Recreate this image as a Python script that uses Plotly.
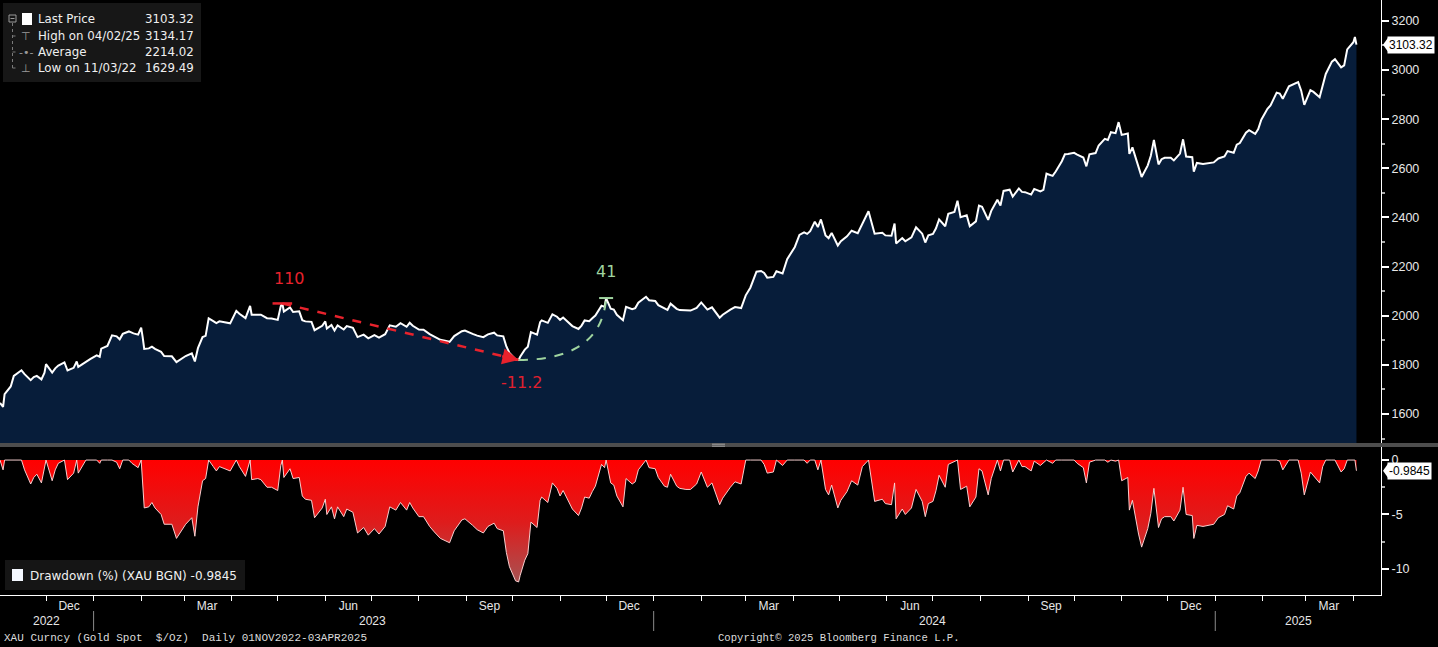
import pandas as pd
import plotly.graph_objects as go

# ---------------- data ----------------
dates = [
    "2022-11-01", "2022-11-02", "2022-11-03", "2022-11-04", "2022-11-08", "2022-11-10", "2022-11-14", "2022-11-15", "2022-11-17", "2022-11-21", "2022-11-23", "2022-11-25", "2022-11-28", "2022-11-30",
    "2022-12-01", "2022-12-05", "2022-12-07", "2022-12-09", "2022-12-13", "2022-12-15", "2022-12-19", "2022-12-21", "2022-12-22", "2022-12-27", "2022-12-30",
    "2023-01-03", "2023-01-05", "2023-01-06", "2023-01-10", "2023-01-13", "2023-01-16", "2023-01-18", "2023-01-20", "2023-01-24", "2023-01-26", "2023-01-27", "2023-01-30",
    "2023-02-01", "2023-02-02", "2023-02-03", "2023-02-06", "2023-02-08", "2023-02-10", "2023-02-14", "2023-02-16", "2023-02-21", "2023-02-24", "2023-02-28",
    "2023-03-02", "2023-03-06", "2023-03-08", "2023-03-10", "2023-03-13", "2023-03-15", "2023-03-17", "2023-03-20", "2023-03-22", "2023-03-24", "2023-03-28", "2023-03-31",
    "2023-04-04", "2023-04-06", "2023-04-10", "2023-04-13", "2023-04-14", "2023-04-18", "2023-04-20", "2023-04-24", "2023-04-27",
    "2023-05-01", "2023-05-03", "2023-05-04", "2023-05-05", "2023-05-09", "2023-05-11", "2023-05-15", "2023-05-17", "2023-05-19", "2023-05-23", "2023-05-25", "2023-05-30",
    "2023-06-01", "2023-06-02", "2023-06-05", "2023-06-07", "2023-06-09", "2023-06-13", "2023-06-15", "2023-06-19", "2023-06-22", "2023-06-26", "2023-06-29",
    "2023-07-03", "2023-07-06", "2023-07-10", "2023-07-13", "2023-07-17", "2023-07-20", "2023-07-24", "2023-07-26", "2023-07-28",
    "2023-08-01", "2023-08-04", "2023-08-08", "2023-08-11", "2023-08-15", "2023-08-21", "2023-08-24", "2023-08-29", "2023-08-31",
    "2023-09-05", "2023-09-08", "2023-09-12", "2023-09-15", "2023-09-19", "2023-09-21", "2023-09-25", "2023-09-27", "2023-09-29",
    "2023-10-03", "2023-10-05", "2023-10-06", "2023-10-09", "2023-10-11", "2023-10-13", "2023-10-17", "2023-10-19", "2023-10-20", "2023-10-24", "2023-10-27", "2023-10-30",
    "2023-11-01", "2023-11-03", "2023-11-07", "2023-11-09", "2023-11-13", "2023-11-15", "2023-11-17", "2023-11-20", "2023-11-22", "2023-11-24", "2023-11-28", "2023-11-30",
    "2023-12-01", "2023-12-04", "2023-12-06", "2023-12-08", "2023-12-12", "2023-12-14", "2023-12-18", "2023-12-20", "2023-12-22", "2023-12-27", "2023-12-29",
    "2024-01-02", "2024-01-04", "2024-01-08", "2024-01-10", "2024-01-12", "2024-01-16", "2024-01-18", "2024-01-22", "2024-01-25", "2024-01-29",
    "2024-02-01", "2024-02-05", "2024-02-08", "2024-02-13", "2024-02-15", "2024-02-20", "2024-02-23", "2024-02-27",
    "2024-03-01", "2024-03-04", "2024-03-06", "2024-03-08", "2024-03-11", "2024-03-13", "2024-03-15", "2024-03-19", "2024-03-21", "2024-03-25", "2024-03-28",
    "2024-04-02", "2024-04-05", "2024-04-08", "2024-04-10", "2024-04-12", "2024-04-15", "2024-04-17", "2024-04-19", "2024-04-22", "2024-04-24", "2024-04-26", "2024-04-30",
    "2024-05-02", "2024-05-06", "2024-05-09", "2024-05-13", "2024-05-16", "2024-05-20", "2024-05-22", "2024-05-24", "2024-05-29", "2024-05-31",
    "2024-06-04", "2024-06-06", "2024-06-07", "2024-06-11", "2024-06-13", "2024-06-17", "2024-06-20", "2024-06-24", "2024-06-26", "2024-06-28",
    "2024-07-01", "2024-07-03", "2024-07-05", "2024-07-09", "2024-07-11", "2024-07-15", "2024-07-17", "2024-07-19", "2024-07-23", "2024-07-25", "2024-07-29", "2024-07-31",
    "2024-08-02", "2024-08-06", "2024-08-08", "2024-08-12", "2024-08-14", "2024-08-16", "2024-08-20", "2024-08-22", "2024-08-26", "2024-08-28", "2024-08-30",
    "2024-09-03", "2024-09-05", "2024-09-09", "2024-09-11", "2024-09-13", "2024-09-17", "2024-09-19", "2024-09-23", "2024-09-25", "2024-09-27",
    "2024-10-01", "2024-10-03", "2024-10-07", "2024-10-09", "2024-10-11", "2024-10-15", "2024-10-17", "2024-10-21", "2024-10-23", "2024-10-25", "2024-10-28", "2024-10-30",
    "2024-11-01", "2024-11-05", "2024-11-06", "2024-11-08", "2024-11-12", "2024-11-14", "2024-11-18", "2024-11-20", "2024-11-22", "2024-11-25", "2024-11-27", "2024-11-29",
    "2024-12-03", "2024-12-05", "2024-12-09", "2024-12-11", "2024-12-13", "2024-12-17", "2024-12-18", "2024-12-20", "2024-12-24", "2024-12-27", "2024-12-31",
    "2025-01-03", "2025-01-07", "2025-01-09", "2025-01-13", "2025-01-15", "2025-01-17", "2025-01-21", "2025-01-23", "2025-01-27", "2025-01-29", "2025-01-31",
    "2025-02-04", "2025-02-06", "2025-02-10", "2025-02-12", "2025-02-14", "2025-02-18", "2025-02-20", "2025-02-24", "2025-02-26", "2025-02-28",
    "2025-03-04", "2025-03-06", "2025-03-10", "2025-03-12", "2025-03-14", "2025-03-18", "2025-03-20", "2025-03-24", "2025-03-26", "2025-03-28",
    "2025-04-01", "2025-04-02", "2025-04-03",
]

price = [
    1645, 1636, 1629.49, 1681, 1712, 1755, 1771, 1778, 1762, 1738, 1750, 1755, 1741, 1768,
    1803, 1769, 1786, 1797, 1810, 1777, 1788, 1814, 1792, 1814, 1824,
    1839, 1833, 1866, 1877, 1920, 1916, 1904, 1926, 1936, 1930, 1928, 1923,
    1951, 1912, 1865, 1867, 1874, 1865, 1853, 1836, 1835, 1811, 1827,
    1836, 1847, 1814, 1868, 1913, 1918, 1989, 1978, 1970, 1977, 1973, 1969,
    2020, 2008, 1990, 2040, 2004, 2005, 2004, 1990, 1989,
    1983, 2039, 2050, 2017, 2034, 2015, 2018, 1982, 1977, 1975, 1941, 1959,
    1977, 1948, 1962, 1940, 1961, 1944, 1958, 1951, 1913, 1923, 1908,
    1921, 1911, 1925, 1961, 1955, 1970, 1955, 1971, 1959,
    1944, 1943, 1925, 1914, 1902, 1894, 1917, 1937, 1940,
    1926, 1919, 1913, 1924, 1931, 1920, 1916, 1875, 1849,
    1822, 1820, 1833, 1862, 1874, 1933, 1923, 1974, 1981, 1971, 2006, 1996,
    1983, 1993, 1969, 1958, 1946, 1960, 1981, 1978, 1990, 2001, 2041, 2036,
    2072, 2029, 2025, 2004, 1982, 2036, 2027, 2031, 2053, 2077, 2063,
    2060, 2043, 2028, 2024, 2049, 2028, 2023, 2021, 2021, 2032,
    2054, 2025, 2034, 1992, 2004, 2025, 2035, 2031,
    2083, 2114, 2148, 2179, 2182, 2174, 2155, 2158, 2181, 2172, 2230,
    2280, 2329, 2339, 2333, 2344, 2383, 2361, 2392, 2327, 2316, 2337, 2286,
    2303, 2323, 2346, 2336, 2377, 2425, 2379, 2334, 2338, 2327,
    2326, 2375, 2294, 2316, 2303, 2319, 2360, 2334, 2298, 2327,
    2333, 2356, 2392, 2364, 2415, 2422, 2468, 2401, 2409, 2364, 2384, 2448,
    2443, 2390, 2427, 2472, 2448, 2508, 2513, 2485, 2518, 2504, 2503,
    2493, 2516, 2506, 2512, 2578, 2569, 2587, 2629, 2657, 2658,
    2663, 2656, 2644, 2608, 2657, 2662, 2693, 2720, 2715, 2747, 2743, 2788,
    2736, 2742, 2659, 2685, 2598, 2565, 2612, 2651, 2715, 2616, 2637, 2643,
    2643, 2632, 2660, 2718, 2648, 2645, 2586, 2622, 2618, 2621, 2624,
    2640, 2648, 2670, 2663, 2696, 2703, 2745, 2755, 2740, 2760, 2798,
    2842, 2856, 2908, 2904, 2883, 2934, 2939, 2951, 2916, 2858,
    2918, 2911, 2889, 2934, 2984, 3034, 3044, 3011, 3019, 3084,
    3113, 3134.17, 3103.32,
]

drawdown = [
    0, -0.5, -0.9, 0, 0, 0, 0, 0, -0.9, -2.2, -1.6, -1.3, -2.1, -0.6,
    0, -1.9, -0.9, -0.3, 0, -1.8, -1.2, 0, -1.2, 0, 0,
    0, -0.3, 0, 0, 0, -0.2, -0.8, 0, 0, -0.3, -0.4, -0.7,
    0, -2.0, -4.4, -4.3, -3.9, -4.4, -5.0, -5.9, -5.9, -7.2, -6.4,
    -5.9, -5.3, -7.0, -4.3, -1.9, -1.7, 0, -0.6, -1.0, -0.6, -0.8, -1.0,
    0, -0.6, -1.5, 0, -1.8, -1.7, -1.8, -2.5, -2.5,
    -2.8, -0.5, 0, -1.6, -0.8, -1.7, -1.6, -3.3, -3.6, -3.7, -5.3, -4.4,
    -3.6, -5.0, -4.3, -5.4, -4.3, -5.2, -4.5, -4.8, -6.7, -6.2, -6.9,
    -6.3, -6.8, -6.1, -4.3, -4.6, -3.9, -4.6, -3.9, -4.4,
    -5.2, -5.2, -6.1, -6.6, -7.2, -7.6, -6.5, -5.5, -5.4,
    -6.0, -6.4, -6.7, -6.1, -5.8, -6.3, -6.5, -8.5, -9.8,
    -11.1, -11.2, -10.6, -9.2, -8.6, -5.7, -6.2, -3.7, -3.4, -3.9, -2.1, -2.6,
    -3.3, -2.8, -4.0, -4.5, -5.1, -4.4, -3.4, -3.5, -2.9, -2.4, -0.4, -0.7,
    0, -2.1, -2.3, -3.3, -4.3, -1.7, -2.2, -2.0, -0.9, 0, -0.7,
    -0.8, -1.6, -2.4, -2.5, -1.3, -2.4, -2.6, -2.7, -2.7, -2.2,
    -1.1, -2.5, -2.1, -4.1, -3.5, -2.5, -2.0, -2.2,
    0, 0, 0, 0, 0, -0.4, -1.2, -1.1, 0, -0.5, 0,
    0, 0, 0, -0.3, 0, 0, -0.9, 0, -2.7, -3.2, -2.3, -4.4,
    -3.7, -2.9, -1.9, -2.3, -0.6, 0, -1.9, -3.8, -3.6, -4.0,
    -4.1, -2.1, -5.4, -4.5, -5.0, -4.4, -2.7, -3.8, -5.2, -4.0,
    -3.8, -2.8, -1.4, -2.5, -0.4, -0.1, 0, -2.7, -2.4, -4.3, -3.4, -0.8,
    -1.0, -3.2, -1.7, 0, -1.0, 0, 0, -1.1, 0, -0.6, -0.6,
    -1.0, -0.1, -0.5, -0.2, 0, -0.3, 0, 0, 0, 0,
    0, -0.3, -0.7, -2.1, -0.2, 0, 0, 0, -0.2, 0, -0.1, 0,
    -1.9, -1.6, -4.6, -3.7, -6.8, -8.0, -6.3, -4.9, -2.6, -6.2, -5.4, -5.2,
    -5.2, -5.6, -4.6, -2.5, -5.0, -5.1, -7.2, -6.0, -6.1, -6.0, -5.9,
    -5.3, -5.0, -4.2, -4.5, -3.3, -3.0, -1.5, -1.2, -1.7, -1.0, 0,
    0, 0, 0, -0.1, -0.9, 0, 0, 0, -1.2, -3.2,
    -1.1, -1.4, -2.1, -0.6, 0, 0, 0, -1.1, -0.8, 0,
    0, 0, -0.9845,
]

month_ticks = ["2022-12-16", "2023-03-16", "2023-06-16", "2023-09-16", "2023-12-16",
               "2024-03-16", "2024-06-16", "2024-09-16", "2024-12-16", "2025-03-16"]
month_labels = ["Dec", "Mar", "Jun", "Sep", "Dec", "Mar", "Jun", "Sep", "Dec", "Mar"]
year_labels = ["2022", "2023", "2024", "2025"]
year_label_dates = ["2022-12-01", "2023-07-02", "2024-07-01", "2025-02-24"]
year_starts = ["2023-01-01", "2024-01-01", "2025-01-01"]

legend_rows = ["Last Price", "High on 04/02/25", "Average", "Low on 11/03/22"]
legend_values = ["3103.32", "3134.17", "2214.02", "1629.49"]
dd_legend_text = "Drawdown (%) (XAU BGN) -0.9845"
peak_trough_days = "110"
recovery_days = "41"
footer_left = "XAU Curncy (Gold Spot\u00a0\u00a0$/Oz)\u00a0\u00a0Daily 01NOV2022-03APR2025"
footer_right = "Copyright\u00a9 2025 Bloomberg Finance L.P."

X_RANGE = ["2022-11-01", "2025-04-19"]
month_starts = [d.strftime("%Y-%m-%d") for d in pd.date_range("2022-12-01", "2025-04-01", freq="MS")]

# ---------------- layout helpers (pixel -> paper) ----------------
PW, PH = 1381.0, 595.0


def px(x):
    return x / PW


def py(y):
    return (PH - y) / PH


# derived key points of the max drawdown episode
i_trough = min(range(len(drawdown)), key=lambda i: drawdown[i])
i_peak = max(i for i in range(i_trough) if drawdown[i] == 0)
i_rec = min(i for i in range(i_trough + 1, len(drawdown)) if drawdown[i] == 0)

RED = "#e8222c"
GREEN = "#9fd49f"
SANS = "DejaVu Sans, Liberation Sans, sans-serif"
AX = "Liberation Sans, Arial, sans-serif"
MONO = "Liberation Mono, DejaVu Sans Mono, monospace"

fig = go.Figure()

fig.add_trace(go.Scatter(
    x=dates, y=price, mode="lines", line=dict(color="#ffffff", width=2),
    fill="tozeroy", fillcolor="#071d3a", xaxis="x", yaxis="y", hoverinfo="skip"))

fig.add_trace(go.Scatter(
    x=dates, y=drawdown, mode="lines", line=dict(color="rgba(255,215,215,0.95)", width=1),
    fill="tozeroy",
    fillgradient=dict(type="vertical",
                      colorscale=[[0, "rgb(165,85,85)"], [0.5, "rgb(222,28,28)"], [1, "rgb(255,0,0)"]],
                      start=-11.5, stop=0),
    xaxis="x2", yaxis="y2", hoverinfo="skip"))

# peak -> trough dashed line
fig.add_trace(go.Scatter(
    x=[dates[i_peak], dates[i_trough]], y=[price[i_peak], price[i_trough]],
    mode="lines", line=dict(color=RED, width=2.5, dash="dash"), xaxis="x", yaxis="y", hoverinfo="skip"))
fig.add_trace(go.Scatter(
    x=[dates[i_peak]], y=[price[i_peak]], mode="markers",
    marker=dict(symbol="line-ew-open", size=14, color=RED, line=dict(color=RED, width=2.5)),
    xaxis="x", yaxis="y", hoverinfo="skip"))
fig.add_trace(go.Scatter(
    x=[dates[i_rec]], y=[price[i_rec]], mode="markers",
    marker=dict(symbol="line-ew-open", size=10, color=GREEN, line=dict(color=GREEN, width=2)),
    xaxis="x", yaxis="y", hoverinfo="skip"))

# trough -> recovery curved dashed line
ctrl_x = dates[i_rec - 2]
path = (f"M {dates[i_trough]},{price[i_trough]} "
        f"Q {ctrl_x},{price[i_trough]} {dates[i_rec]},{price[i_rec]}")
fig.add_shape(type="path", path=path, xref="x", yref="y",
              line=dict(color=GREEN, width=2, dash="dash"))

# arrow head at trough
fig.add_annotation(x=dates[i_trough], y=price[i_trough], xref="x", yref="y", text="",
                   showarrow=True, arrowhead=2, arrowsize=1.3, arrowwidth=2.5, arrowcolor=RED,
                   ax=-18, ay=-4)

fig.add_annotation(x=dates[i_peak], y=price[i_peak], xref="x", yref="y", text=peak_trough_days,
                   showarrow=False, xshift=7, yshift=25, font=dict(family=SANS, size=16, color=RED))
fig.add_annotation(x=dates[i_trough], y=price[i_trough], xref="x", yref="y",
                   text=f"{drawdown[i_trough]:.1f}",
                   showarrow=False, xshift=3, yshift=-23, font=dict(family=SANS, size=16, color="#e0202e"))
fig.add_annotation(x=dates[i_rec], y=price[i_rec], xref="x", yref="y", text=recovery_days,
                   showarrow=False, xshift=0, yshift=27, font=dict(family=SANS, size=16, color=GREEN))

# last-value tags on the right axis
fig.add_annotation(xref="paper", yref="y", x=px(1387), y=price[-1], xanchor="left", yanchor="middle",
                   text=f"{price[-1]:.2f}", showarrow=False, bgcolor="#ffffff", borderpad=1,
                   font=dict(family=AX, size=12, color="#000000"))
fig.add_shape(type="path", xref="paper", yref="y", xsizemode="pixel", ysizemode="pixel",
              xanchor=px(1381), yanchor=price[-1], path="M 2,0 L 7,7 L 7,-7 Z",
              fillcolor="#ffffff", line=dict(width=0))
fig.add_annotation(xref="paper", yref="y2", x=px(1387), y=drawdown[-1], xanchor="left", yanchor="middle",
                   text=f"{drawdown[-1]:.4f}", showarrow=False, bgcolor="#ffffff", borderpad=1,
                   font=dict(family=AX, size=12, color="#000000"))
fig.add_shape(type="path", xref="paper", yref="y2", xsizemode="pixel", ysizemode="pixel",
              xanchor=px(1381), yanchor=drawdown[-1], path="M 2,0 L 7,7 L 7,-7 Z",
              fillcolor="#ffffff", line=dict(width=0))

# panel separator + handle
fig.add_shape(type="rect", xref="paper", yref="paper", x0=0, x1=1438 / PW, y0=py(447), y1=py(443),
              fillcolor="#4d4d4d", line=dict(width=0), layer="above")
for yy in (444.2, 446.2):
    fig.add_shape(type="line", xref="paper", yref="paper", x0=px(712), x1=px(725), y0=py(yy), y1=py(yy),
                  line=dict(color="#a0a0a0", width=1))

# price legend box
fig.add_shape(type="rect", xref="paper", yref="paper", x0=px(3), x1=px(201), y0=py(82), y1=py(3),
              fillcolor="#171717", line=dict(width=0))
fig.add_shape(type="rect", xref="paper", yref="paper", x0=px(9), x1=px(16), y0=py(22), y1=py(15),
              fillcolor="rgba(0,0,0,0)", line=dict(color="#9a9a9a", width=1))
fig.add_shape(type="line", xref="paper", yref="paper", x0=px(10.5), x1=px(14.5), y0=py(18.5), y1=py(18.5),
              line=dict(color="#9a9a9a", width=1))
fig.add_shape(type="rect", xref="paper", yref="paper", x0=px(22), x1=px(32), y0=py(25), y1=py(13),
              fillcolor="#ffffff", line=dict(width=0))
fig.add_shape(type="line", xref="paper", yref="paper", x0=px(12.5), x1=px(12.5), y0=py(23), y1=py(68),
              line=dict(color="#7a7a7a", width=1, dash="dot"))
for yy in (36, 52, 68):
    fig.add_shape(type="line", xref="paper", yref="paper", x0=px(12.5), x1=px(18), y0=py(yy), y1=py(yy),
                  line=dict(color="#7a7a7a", width=1, dash="dot"))
icons = ["", "\u22a4", "-\u2022-", "\u22a5"]
row_y = [19, 36, 52, 68]
for txt, val, ico, yy in zip(legend_rows, legend_values, icons, row_y):
    fig.add_annotation(xref="paper", yref="paper", x=px(36), y=py(yy), xanchor="left", yanchor="middle",
                       text=txt, showarrow=False, font=dict(family=SANS, size=11.8, color="#f0f0f0"))
    fig.add_annotation(xref="paper", yref="paper", x=px(196), y=py(yy), xanchor="right", yanchor="middle",
                       text=val, showarrow=False, font=dict(family=SANS, size=11.8, color="#f0f0f0"))
    if ico:
        fig.add_annotation(xref="paper", yref="paper", x=px(26), y=py(yy), xanchor="center", yanchor="middle",
                           text=ico, showarrow=False, font=dict(family=SANS, size=11, color="#9a9a9a"))

# drawdown legend box
fig.add_shape(type="rect", xref="paper", yref="paper", x0=px(5), x1=px(245), y0=py(590), y1=py(560),
              fillcolor="#151515", line=dict(width=0))
fig.add_shape(type="rect", xref="paper", yref="paper", x0=px(12), x1=px(23), y0=py(581), y1=py(569),
              fillcolor="#f4f8ff", line=dict(width=0))
fig.add_annotation(xref="paper", yref="paper", x=px(28), y=py(576), xanchor="left", yanchor="middle",
                   text=dd_legend_text, showarrow=False, font=dict(family=SANS, size=12, color="#f0f0f0"))

# year row under the month labels
for lab, d in zip(year_labels, year_label_dates):
    fig.add_annotation(xref="x2", yref="paper", x=d, y=py(621), xanchor="center", yanchor="middle",
                       text=lab, showarrow=False, font=dict(family=AX, size=12, color="#e6e6e6"))
for d in year_starts:
    fig.add_shape(type="line", xref="x2", yref="paper", x0=d, x1=d, y0=py(611), y1=py(631),
                  line=dict(color="#8a8a8a", width=1))

# footer
fig.add_annotation(xref="paper", yref="paper", x=px(2), y=py(638), xanchor="left", yanchor="middle",
                   text=footer_left, showarrow=False, font=dict(family=MONO, size=11, color="#dcdcdc"))
fig.add_annotation(xref="paper", yref="paper", x=px(716), y=py(638), xanchor="left", yanchor="middle",
                   text=footer_right, showarrow=False, font=dict(family=MONO, size=10.6, color="#dcdcdc"))

fig.update_layout(
    width=1438, height=647,
    paper_bgcolor="#000000", plot_bgcolor="#000000",
    margin=dict(l=0, r=57, t=0, b=52, autoexpand=False),
    showlegend=False,
    font=dict(family=AX, color="#e6e6e6", size=12),
    xaxis=dict(domain=[0, 1], anchor="y", range=X_RANGE, type="date", showticklabels=False,
               ticks="", showgrid=False, zeroline=False, showline=False, automargin=False),
    yaxis=dict(domain=[py(443), 1], anchor="x", side="right", range=[1482, 3285],
               tickmode="linear", tick0=1600, dtick=200, ticks="outside", ticklen=7, tickwidth=2,
               tickcolor="#ffffff", showline=True, linecolor="#ffffff", linewidth=1,
               showgrid=False, zeroline=False, automargin=False,
               tickfont=dict(family=AX, size=12.5, color="#e8e8e8"),
               minor=dict(tickmode="linear", tick0=1500, dtick=100, ticks="outside", ticklen=3,
                          tickcolor="#aaaaaa", showgrid=False)),
    xaxis2=dict(domain=[0, 1], anchor="y2", range=X_RANGE, type="date",
                tickmode="array", tickvals=month_ticks, ticktext=month_labels, ticks="",
                showline=True, linecolor="#ffffff", linewidth=1, showgrid=False, zeroline=False,
                automargin=False, tickfont=dict(family=AX, size=12, color="#e6e6e6"),
                minor=dict(tickmode="array", tickvals=month_starts, ticks="outside", ticklen=5,
                           tickcolor="#ffffff", showgrid=False)),
    yaxis2=dict(domain=[0, py(447)], anchor="x2", side="right", range=[-12.4, 1.2],
                tickmode="array", tickvals=[0, -5, -10], ticktext=["0", "-5", "-10"],
                ticks="outside", ticklen=7, tickwidth=2, tickcolor="#ffffff",
                showline=True, linecolor="#ffffff", linewidth=1, showgrid=False, zeroline=False,
                automargin=False, tickfont=dict(family=AX, size=12.5, color="#e8e8e8"),
                minor=dict(tickmode="array", tickvals=[-2.5, -7.5], ticks="outside", ticklen=3,
                           tickcolor="#aaaaaa", showgrid=False)),
)

fig.write_html(
    "out.html",
    config={"displayModeBar": False},
    post_script="document.body.style.margin='0';document.body.style.padding='0';"
                "document.body.style.background='#000';document.documentElement.style.background='#000';",
)
